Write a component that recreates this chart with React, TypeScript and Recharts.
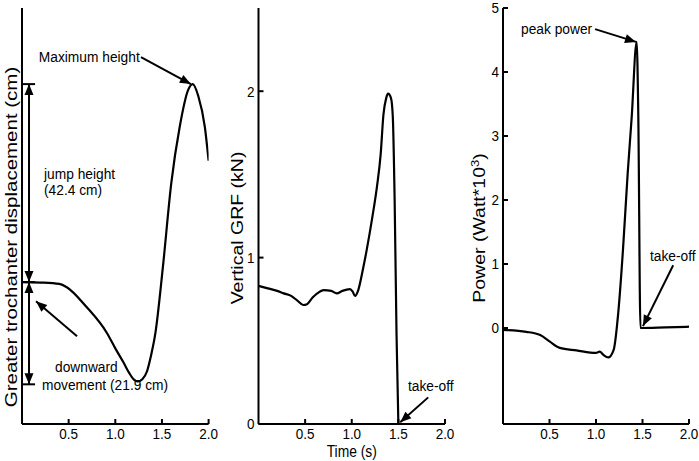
import React from 'react';
import { LineChart, Line, XAxis, YAxis, ReferenceLine, ReferenceDot } from 'recharts';

const FONT = '"Liberation Sans", Arial, Helvetica, sans-serif';
const SQUEEZE = 0.82;
const NOTE_SIZE = 14.5;
const NOTE_SQ = 0.95;

// panel 1: greater trochanter displacement, cm relative to standing
const dispTime = [0, 0.2, 0.4, 0.48, 0.69, 0.91, 1.0, 1.09, 1.15, 1.2, 1.24, 1.29, 1.34, 1.38, 1.43, 1.51, 1.6, 1.69, 1.78, 1.83, 1.89, 1.96, 2.0];
const dispCm = [0, -0.1, -0.4, -1.1, -5.3, -10.9, -14.2, -17.3, -19.5, -20.9, -21.3, -20.8, -19.1, -16, -10.9, 3.2, 21.2, 33.2, 41.1, 42.4, 39.8, 33.2, 26];

// panel 2: vertical ground reaction force, kN
const grfTime = [0, 0.1, 0.2, 0.27, 0.35, 0.42, 0.48, 0.52, 0.58, 0.63, 0.7, 0.78, 0.84, 0.9, 0.98, 1.01, 1.035, 1.07, 1.12, 1.16, 1.22, 1.27, 1.31, 1.34, 1.37, 1.39, 1.42, 1.44, 1.46, 1.48, 1.5];
const grfKn = [0.83, 0.815, 0.8, 0.785, 0.77, 0.74, 0.715, 0.72, 0.76, 0.785, 0.805, 0.8, 0.785, 0.8, 0.81, 0.795, 0.77, 0.805, 0.93, 1.045, 1.24, 1.425, 1.62, 1.86, 1.96, 1.985, 1.96, 1.85, 1.345, 0.545, 0];

// panel 3: power, W*10^3
const powTime = [0, 0.25, 0.4, 0.5, 0.61, 0.79, 1.0, 1.04, 1.08, 1.13, 1.19, 1.24, 1.29, 1.34, 1.384, 1.437, 1.455, 1.478, 1.75, 2.0];
const powKw = [-0.03, -0.06, -0.11, -0.21, -0.31, -0.35, -0.39, -0.37, -0.42, -0.46, -0.34, 0.25, 1.22, 2.4, 3.3, 4.47, 3.3, 0, 0.01, 0.02];

const timeTicks = [0.5, 1.0, 1.5, 2.0];
const grfTicks = [0, 1, 2];
const powTicks = [0, 1, 2, 3, 4, 5];

const jumpHeight = 42.4;
const downward = -21.9;

const toRows = (t: number[], v: number[]) => t.map((time, i) => ({ time, value: v[i] }));

const axisLine = { stroke: '#000', strokeWidth: 2 };

function SqText({ x, y, anchor = 'start', size = NOTE_SIZE, sq = NOTE_SQ, children }: any) {
  return (
    <text
      transform={`translate(${x},${y}) scale(${sq},1)`}
      textAnchor={anchor}
      dy="0.36em"
      fontSize={size}
      fontFamily={FONT}
      fill="#000"
    >
      {children}
    </text>
  );
}

function XTick(props: any) {
  const { x, y, payload } = props;
  return (
    <g>
      <line x1={x} y1={y} x2={x} y2={y - 5} stroke="#000" strokeWidth={2} />
      <SqText x={x} y={y + 10} anchor="middle" size={15} sq={0.9}>{payload.value.toFixed(1)}</SqText>
    </g>
  );
}

function YTick(props: any) {
  const { x, y, payload } = props;
  return (
    <g>
      <line x1={x} y1={y} x2={x + 5} y2={y} stroke="#000" strokeWidth={2} />
      <SqText x={x - 4} y={y} anchor="end" size={15} sq={0.9}>{String(payload.value)}</SqText>
    </g>
  );
}

const yTitle = (cx: number, cy: number, size: number, body: React.ReactNode) => ({
  content: (p: any) => {
    const vb = p.viewBox;
    return (
      <text
        transform={`translate(${vb.x + cx},${cy}) rotate(-90) scale(1,${SQUEEZE})`}
        textAnchor="middle"
        dy="0.36em"
        fontSize={size}
        fontFamily={FONT}
        fill="#000"
      >
        {body}
      </text>
    );
  },
});

function head(x1: number, y1: number, x2: number, y2: number) {
  const len = 11;
  const half = 4.5;
  const dx = x2 - x1;
  const dy = y2 - y1;
  const d = Math.hypot(dx, dy) || 1;
  const ux = dx / d;
  const uy = dy / d;
  const bx = x2 - ux * len;
  const by = y2 - uy * len;
  return `${x2},${y2} ${bx - uy * half},${by + ux * half} ${bx + uy * half},${by - ux * half}`;
}

const arrow = (both: boolean) => (p: any) => {
  const { x1, y1, x2, y2 } = p;
  return (
    <g>
      <line x1={x1} y1={y1} x2={x2} y2={y2} stroke="#000" strokeWidth={2} />
      <polygon points={head(x1, y1, x2, y2)} fill="#000" />
      {both && <polygon points={head(x2, y2, x1, y1)} fill="#000" />}
    </g>
  );
};

const plainLine = (p: any) => (
  <line x1={p.x1} y1={p.y1} x2={p.x2} y2={p.y2} stroke="#000" strokeWidth={2} />
);

const note = (text: React.ReactNode) => (p: any) => <SqText x={p.cx} y={p.cy}>{text}</SqText>;

const xAxisProps = {
  dataKey: 'time',
  type: 'number' as const,
  domain: [0, 2],
  ticks: timeTicks,
  tickLine: false,
  tickSize: 0,
  tickMargin: 0,
  axisLine,
  height: 30,
  interval: 0 as const,
  allowDataOverflow: true,
  tick: (p: any) => <XTick {...p} />,
};

export default function App() {
  return (
    <div style={{ position: 'absolute', left: 0, top: 0, width: 699, height: 461, background: '#fff' }}>
      <div style={{ position: 'absolute', left: 0, top: 0 }}>
        <LineChart width={220} height={461} data={toRows(dispTime, dispCm)} margin={{ top: 8, right: 11.4, bottom: 7, left: 0 }}>
          <XAxis {...xAxisProps} />
          <YAxis
            type="number"
            domain={[-30.4, 58.7]}
            width={22}
            tick={false}
            tickLine={false}
            axisLine={axisLine}
            allowDataOverflow
            label={yTitle(11, 237, 20.5, 'Greater trochanter displacement (cm)')}
          />
          <Line dataKey="value" type="monotone" stroke="#000" strokeWidth={2.2} dot={false} isAnimationActive={false} />
          {[jumpHeight, 0, downward].map((v) => (
            <ReferenceLine key={v} segment={[{ x: 0, y: v }, { x: 0.14, y: v }]} shape={plainLine} />
          ))}
          <ReferenceLine segment={[{ x: 0.075, y: jumpHeight }, { x: 0.075, y: 0 }]} shape={arrow(true)} />
          <ReferenceLine segment={[{ x: 0.075, y: 0 }, { x: 0.075, y: downward }]} shape={arrow(true)} />
          <ReferenceLine segment={[{ x: 1.275, y: 48.2 }, { x: 1.81, y: jumpHeight }]} shape={arrow(false)} />
          <ReferenceLine segment={[{ x: 0.59, y: -11.6 }, { x: 0.15, y: -4.1 }]} shape={arrow(false)} />
          <ReferenceDot x={0.18} y={48.2} shape={note('Maximum height')} />
          <ReferenceDot x={0.236} y={23.3} shape={note('jump height')} />
          <ReferenceDot x={0.236} y={19.8} shape={note('(42.4 cm)')} />
          <ReferenceDot x={0.354} y={-18.2} shape={note('downward')} />
          <ReferenceDot x={0.214} y={-22} shape={note('movement (21.9 cm)')} />
        </LineChart>
      </div>

      <div style={{ position: 'absolute', left: 215, top: 0 }}>
        <LineChart width={245} height={461} data={toRows(grfTime, grfKn)} margin={{ top: 8, right: 15, bottom: 7, left: 0 }}>
          <XAxis
            {...xAxisProps}
            label={{
              content: (p: any) => {
                const vb = p.viewBox;
                return <SqText x={vb.x + vb.width / 2} y={vb.y + 27} anchor="middle" size={16.5} sq={0.84}>Time (s)</SqText>;
              },
            }}
          />
          <YAxis
            type="number"
            domain={[0, 2.5]}
            ticks={grfTicks}
            width={43.5}
            tickLine={false}
            tickSize={0}
            tickMargin={0}
            interval={0}
            axisLine={axisLine}
            allowDataOverflow
            tick={(p: any) => <YTick {...p} />}
            label={yTitle(22, 228, 19.5, 'Vertical GRF (kN)')}
          />
          <Line dataKey="value" type="monotone" stroke="#000" strokeWidth={2.2} dot={false} isAnimationActive={false} />
          <ReferenceLine segment={[{ x: 1.82, y: 0.16 }, { x: 1.52, y: 0.01 }]} shape={arrow(false)} />
          <ReferenceDot x={1.603} y={0.228} shape={note('take-off')} />
        </LineChart>
      </div>

      <div style={{ position: 'absolute', left: 460, top: 0 }}>
        <LineChart width={239} height={461} data={toRows(powTime, powKw)} margin={{ top: 8, right: 10, bottom: 7, left: 0 }}>
          <XAxis {...xAxisProps} />
          <YAxis
            type="number"
            domain={[-1.5, 5]}
            ticks={powTicks}
            width={43}
            tickLine={false}
            tickSize={0}
            tickMargin={0}
            interval={0}
            axisLine={axisLine}
            allowDataOverflow
            tick={(p: any) => <YTick {...p} />}
            label={yTitle(19, 228, 19.5, (
              <>
                Power (Watt*10
                <tspan dy={-7} fontSize={13}>3</tspan>
                <tspan dy={7}>)</tspan>
              </>
            ))}
          />
          <Line dataKey="value" type="monotone" stroke="#000" strokeWidth={2.2} dot={false} isAnimationActive={false} />
          <ReferenceLine segment={[{ x: 0.99, y: 4.67 }, { x: 1.43, y: 4.47 }]} shape={arrow(false)} />
          <ReferenceLine segment={[{ x: 1.83, y: 0.98 }, { x: 1.505, y: 0.03 }]} shape={arrow(false)} />
          <ReferenceDot x={0.194} y={4.67} shape={note('peak power')} />
          <ReferenceDot x={1.58} y={1.125} shape={note('take-off')} />
        </LineChart>
      </div>
    </div>
  );
}
